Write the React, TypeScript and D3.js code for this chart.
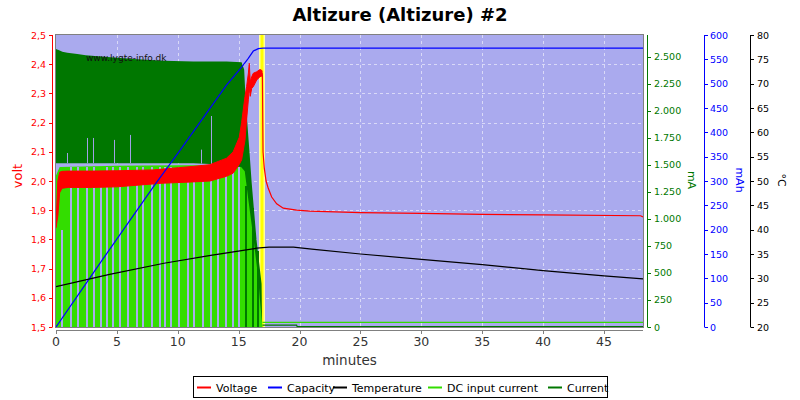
import React from 'react';
import * as d3 from 'd3';

// ---------- data ----------
const xTicks = [0, 5, 10, 15, 20, 25, 30, 35, 40, 45];
const voltTicks = [1.5, 1.6, 1.7, 1.8, 1.9, 2.0, 2.1, 2.2, 2.3, 2.4, 2.5];
const maTicks = [0, 250, 500, 750, 1000, 1250, 1500, 1750, 2000, 2250, 2500];
const mahTicks = [0, 50, 100, 150, 200, 250, 300, 350, 400, 450, 500, 550, 600];
const tempTicks = [20, 25, 30, 35, 40, 45, 50, 55, 60, 65, 70, 75, 80];

// Voltage during charge: noisy band (high / low envelope)
const voltBandTime = [0, 0.15, 0.3, 0.5, 1, 3, 5, 8, 8.54, 11.27, 12.64, 14.0, 14.55, 15.05, 15.24, 15.52, 15.65, 15.8, 15.87, 15.95, 16.07, 16.2, 16.48, 16.75, 16.92];
const voltHigh = [1.85, 2.0, 2.03, 2.033, 2.034, 2.034, 2.035, 2.038, 2.04, 2.05, 2.056, 2.078, 2.1, 2.15, 2.2, 2.29, 2.323, 2.37, 2.403, 2.34, 2.357, 2.369, 2.374, 2.382, 2.378];
const voltLow = [1.84, 1.88, 1.96, 1.975, 1.978, 1.978, 1.98, 1.99, 1.992, 1.997, 2.0, 2.016, 2.027, 2.057, 2.072, 2.14, 2.209, 2.28, 2.318, 2.29, 2.317, 2.323, 2.346, 2.357, 2.36];
// Voltage after charge end
const voltTailTime = [16.92, 16.95, 17.0, 17.1, 17.25, 17.43, 17.71, 18.12, 18.66, 19.76, 20.85, 25, 30, 35, 40, 48.0, 48.2];
const voltTail = [2.37, 2.36, 2.1, 2.045, 2.0, 1.975, 1.945, 1.922, 1.907, 1.9, 1.897, 1.892, 1.889, 1.886, 1.884, 1.881, 1.877];

// Capacity (mAh)
const capTime = [0, 4, 8.05, 10.18, 14.0, 15.24, 15.79, 16.2, 16.61, 17.0, 48.2];
const capVal = [0, 145, 290, 363, 497, 534, 552, 567, 572, 573, 573];

// Temperature (°C)
const tempTime = [0, 4.4, 8.87, 12.7, 16.48, 17.5, 19.5, 21, 25, 30, 35, 40, 45, 48.2];
const tempVal = [28.3, 30.8, 33.1, 34.7, 36.2, 36.4, 36.4, 36.0, 35.0, 33.9, 32.8, 31.6, 30.5, 29.9];

// DC input current (mA): upper envelope while charging, dips, and level after charge
const dcTime = [0, 0.3, 5, 10, 14, 15.2, 15.5, 15.8, 16.2, 16.6, 16.75, 16.95];
const dcTop = [1400, 1480, 1490, 1495, 1495, 1480, 1440, 1172, 832, 461, 245, 0];
const dcGapTime = [0.45, 1.15, 1.75, 2.44, 3.07, 3.6, 4.08, 4.6, 5.17, 5.86, 6.54, 7.09, 7.77, 8.46, 8.9, 9.36, 10.04, 10.73, 11.27, 11.96, 12.64, 13.19, 13.87, 14.42, 14.97, 15.52, 16.07, 16.48];
const dcGapTop = [900, 1480, 1480, 1480, 1480, 1300, 1480, 1480, 1480, 1480, 1480, 1480, 1480, 1480, 1480, 1480, 1480, 1480, 1480, 1480, 1480, 1480, 1480, 1480, 1480, 1300, 1100, 700];
const dcAfterTime = [16.95, 48.2];
const dcAfter = [43, 43];

// Current (mA): band while charging, dips, tail and level after charge
const curTime = [0, 0.3, 0.52, 0.93, 1.75, 2.44, 3.94, 6.67, 8.87, 11.27, 14.0, 15.24, 15.45, 15.55, 15.7, 15.9, 16.07, 16.47, 16.88, 16.92];
const curTop = [2571, 2556, 2546, 2537, 2525, 2513, 2500, 2476, 2463, 2454, 2454, 2448, 2380, 2150, 1900, 1600, 1330, 800, 400, 50];
const curLow = [1515, 1515, 1515, 1515, 1515, 1515, 1515, 1515, 1515, 1515, 1500, 1450, 0, 0, 0, 0, 0, 0, 0, 0];
const curDipTime = [0.93, 2.52, 3.07, 4.79, 6.08, 11.9, 12.73];
const curDipFrom = [1609, 1748, 1748, 1730, 1776, 1640, 1951];
const curAfterTime = [16.95, 19.76, 19.8, 48.2];
const curAfter = [18, 18, 3, 3];

// ---------- style ----------
const FONT = 'DejaVu Sans, Verdana, sans-serif';
const BG = '#aaaaee';
const RED = '#ff0000';
const BLUE = '#0000ff';
const GREEN_D = '#007700';
const GREEN_L = '#33dd00';
const GAP_PX = 2;
const YELLOW_T = 16.95;

const legendItems = [
  { label: 'Voltage', color: RED, x: 197 },
  { label: 'Capacity', color: BLUE, x: 268 },
  { label: 'Temperature', color: '#000000', x: 333 },
  { label: 'DC input current', color: GREEN_L, x: 428 },
  { label: 'Current', color: GREEN_D, x: 548 },
];

function interp(ts: number[], vs: number[], t: number) {
  return d3.scaleLinear().domain(ts).range(vs).clamp(true)(t);
}

export default function App() {
  const L = 56, R = 643, T = 35, B = 327;
  const x = d3.scaleLinear().domain([0, 48.2]).range([L, R]);
  const yV = d3.scaleLinear().domain([1.5, 2.5]).range([B, T]);
  const yA = d3.scaleLinear().domain([0, 2700]).range([B, T]);
  const yC = d3.scaleLinear().domain([0, 600]).range([B, T]);
  const yT = d3.scaleLinear().domain([20, 80]).range([B, T]);

  const band = (ts: number[], hi: number[], lo: number[], y: d3.ScaleLinear<number, number>) =>
    d3.area<number>().x((i) => x(ts[i])).y0((i) => y(lo[i])).y1((i) => y(hi[i]))(ts.map((_, i) => i)) || '';
  const line = (ts: number[], vs: number[], y: d3.ScaleLinear<number, number>) =>
    d3.line<number>().x((i) => x(ts[i])).y((i) => y(vs[i]))(ts.map((_, i) => i)) || '';

  const fmtMa = (v: number) => (v >= 1000 ? `${Math.floor(v / 1000)}.${String(v % 1000).padStart(3, '0')}` : String(v));
  const fmtV = (v: number) => v.toFixed(1).replace('.', ',');

  const dcZeros = dcTime.map(() => 0);

  return (
    <svg width={800} height={400} style={{ position: 'absolute', left: 0, top: 0, background: '#fff' }} fontFamily={FONT}>
      <defs>
        <clipPath id="plot"><rect x={L} y={T} width={R - L} height={B - T} /></clipPath>
      </defs>
      <text x={400} y={21} textAnchor="middle" fontSize={18} fontWeight="bold" fill="#000">Altizure (Altizure) #2</text>

      <rect x={L} y={T} width={R - L} height={B - T} fill={BG} />
      <g stroke="#ffffff" strokeOpacity={0.55} strokeDasharray="3,3" strokeWidth={1}>
        {xTicks.filter((t) => t > 0).map((t) => (
          <line key={'gx' + t} x1={Math.round(x(t)) + 0.5} x2={Math.round(x(t)) + 0.5} y1={T} y2={B} />
        ))}
        {voltTicks.filter((v) => v > 1.5 && v < 2.5).map((v) => (
          <line key={'gy' + v} x1={L} x2={R} y1={Math.round(yV(v)) + 0.5} y2={Math.round(yV(v)) + 0.5} />
        ))}
      </g>

      <g clipPath="url(#plot)">
        {/* yellow marker */}
        <rect x={Math.round(x(YELLOW_T)) - 3} y={T} width={6} height={B - T} fill="#ffff99" />
        <rect x={Math.round(x(YELLOW_T)) - 1.5} y={T} width={3} height={B - T} fill="#ffff00" />

        {/* current band */}
        <path d={band(curTime, curTop, curLow, yA)} fill={GREEN_D} />
        {curDipTime.map((t, i) => (
          <line key={'cd' + i} x1={Math.round(x(t)) + 0.5} x2={Math.round(x(t)) + 0.5} y1={yA(curDipFrom[i])} y2={yA(interp(curTime, curLow, t))} stroke="#a0a0e6" strokeWidth={1} />
        ))}
        {/* DC input current */}
        <path d={band(dcTime, dcTop, dcZeros, yA)} fill={GREEN_L} />
        {dcGapTime.map((t, i) => (
          <rect key={'g' + i} x={Math.round(x(t))} y={yA(dcGapTop[i])} width={GAP_PX} height={yA(0) - yA(dcGapTop[i])} fill={t > 15.3 ? GREEN_D : BG} shapeRendering="crispEdges" />
        ))}

        {/* voltage */}
        <path d={band(voltBandTime, voltHigh, voltLow, yV)} fill={RED} stroke={RED} strokeWidth={1} />
        <path d={line(voltTailTime, voltTail, yV)} fill="none" stroke={RED} strokeWidth={1.2} />

        <path d={line(dcAfterTime, dcAfter, yA)} fill="none" stroke={GREEN_L} strokeWidth={1.2} />
        <path d={line(curAfterTime, curAfter, yA)} fill="none" stroke={GREEN_D} strokeWidth={1.2} />

        <path d={line(capTime, capVal, yC)} fill="none" stroke={BLUE} strokeWidth={1.2} />
        <path d={line(tempTime, tempVal, yT)} fill="none" stroke="#000" strokeWidth={1.2} />
      </g>
      <rect x={L - 0.5} y={T - 0.5} width={R - L + 1} height={B - T + 1} fill="none" stroke="#808080" />

      <text x={L + 30} y={61} fontSize={9} fill="#111">www.lygte-info.dk</text>

      {/* left volt axis */}
      <g fill={RED}>
        <line x1={52.5} x2={52.5} y1={T} y2={B} stroke={RED} />
        {voltTicks.map((v) => (
          <g key={'v' + v}>
            <line x1={49} x2={52.5} y1={Math.round(yV(v)) + 0.5} y2={Math.round(yV(v)) + 0.5} stroke={RED} />
            <text x={46} y={yV(v) + 3.5} textAnchor="end" fontSize={9.5}>{fmtV(v)}</text>
          </g>
        ))}
        <text transform={`translate(22,176) rotate(-90)`} textAnchor="middle" fontSize={13}>volt</text>
      </g>

      {/* bottom axis */}
      <g fill="#333">
        <line x1={L} x2={R} y1={330.5} y2={330.5} stroke="#808080" />
        {xTicks.map((t) => (
          <g key={'x' + t}>
            <line x1={Math.round(x(t)) + 0.5} x2={Math.round(x(t)) + 0.5} y1={330.5} y2={334} stroke="#808080" />
            <text x={x(t)} y={346} textAnchor="middle" fontSize={12.5}>{t}</text>
          </g>
        ))}
        <text x={(L + R) / 2} y={365} textAnchor="middle" fontSize={13.5}>minutes</text>
      </g>

      {/* mA axis */}
      <g fill={GREEN_D}>
        <line x1={647.5} x2={647.5} y1={T} y2={B} stroke={GREEN_D} />
        {maTicks.map((v) => (
          <g key={'a' + v}>
            <line x1={647.5} x2={651} y1={Math.round(yA(v)) + 0.5} y2={Math.round(yA(v)) + 0.5} stroke={GREEN_D} />
            <text x={654} y={yA(v) + 3.5} fontSize={9.5}>{fmtMa(v)}</text>
          </g>
        ))}
        <text transform={`translate(688,180) rotate(90)`} textAnchor="middle" fontSize={11}>mA</text>
      </g>

      {/* mAh axis */}
      <g fill={BLUE}>
        <line x1={704.5} x2={704.5} y1={T} y2={B} stroke={BLUE} />
        {mahTicks.map((v) => (
          <g key={'c' + v}>
            <line x1={704.5} x2={708} y1={Math.round(yC(v)) + 0.5} y2={Math.round(yC(v)) + 0.5} stroke={BLUE} />
            <text x={710} y={yC(v) + 3.5} fontSize={9.5}>{v}</text>
          </g>
        ))}
        <text transform={`translate(736,180) rotate(90)`} textAnchor="middle" fontSize={11}>mAh</text>
      </g>

      {/* temperature axis */}
      <g fill="#000">
        <line x1={750.5} x2={750.5} y1={T} y2={B} stroke="#000" />
        {tempTicks.map((v) => (
          <g key={'t' + v}>
            <line x1={750.5} x2={754} y1={Math.round(yT(v)) + 0.5} y2={Math.round(yT(v)) + 0.5} stroke="#000" />
            <text x={757} y={yT(v) + 3.5} fontSize={9.5}>{v}</text>
          </g>
        ))}
        <text transform={`translate(778,180) rotate(90)`} textAnchor="middle" fontSize={11}>°C</text>
      </g>

      {/* legend */}
      <rect x={193.5} y={376.5} width={414} height={21} fill="#fff" stroke="#000" />
      {legendItems.map((it) => (
        <g key={it.label}>
          <line x1={it.x} x2={it.x + 14} y1={387.5} y2={387.5} stroke={it.color} strokeWidth={2} />
          <text x={it.x + 19} y={391.5} fontSize={11} fill="#000">{it.label}</text>
        </g>
      ))}
    </svg>
  );
}
